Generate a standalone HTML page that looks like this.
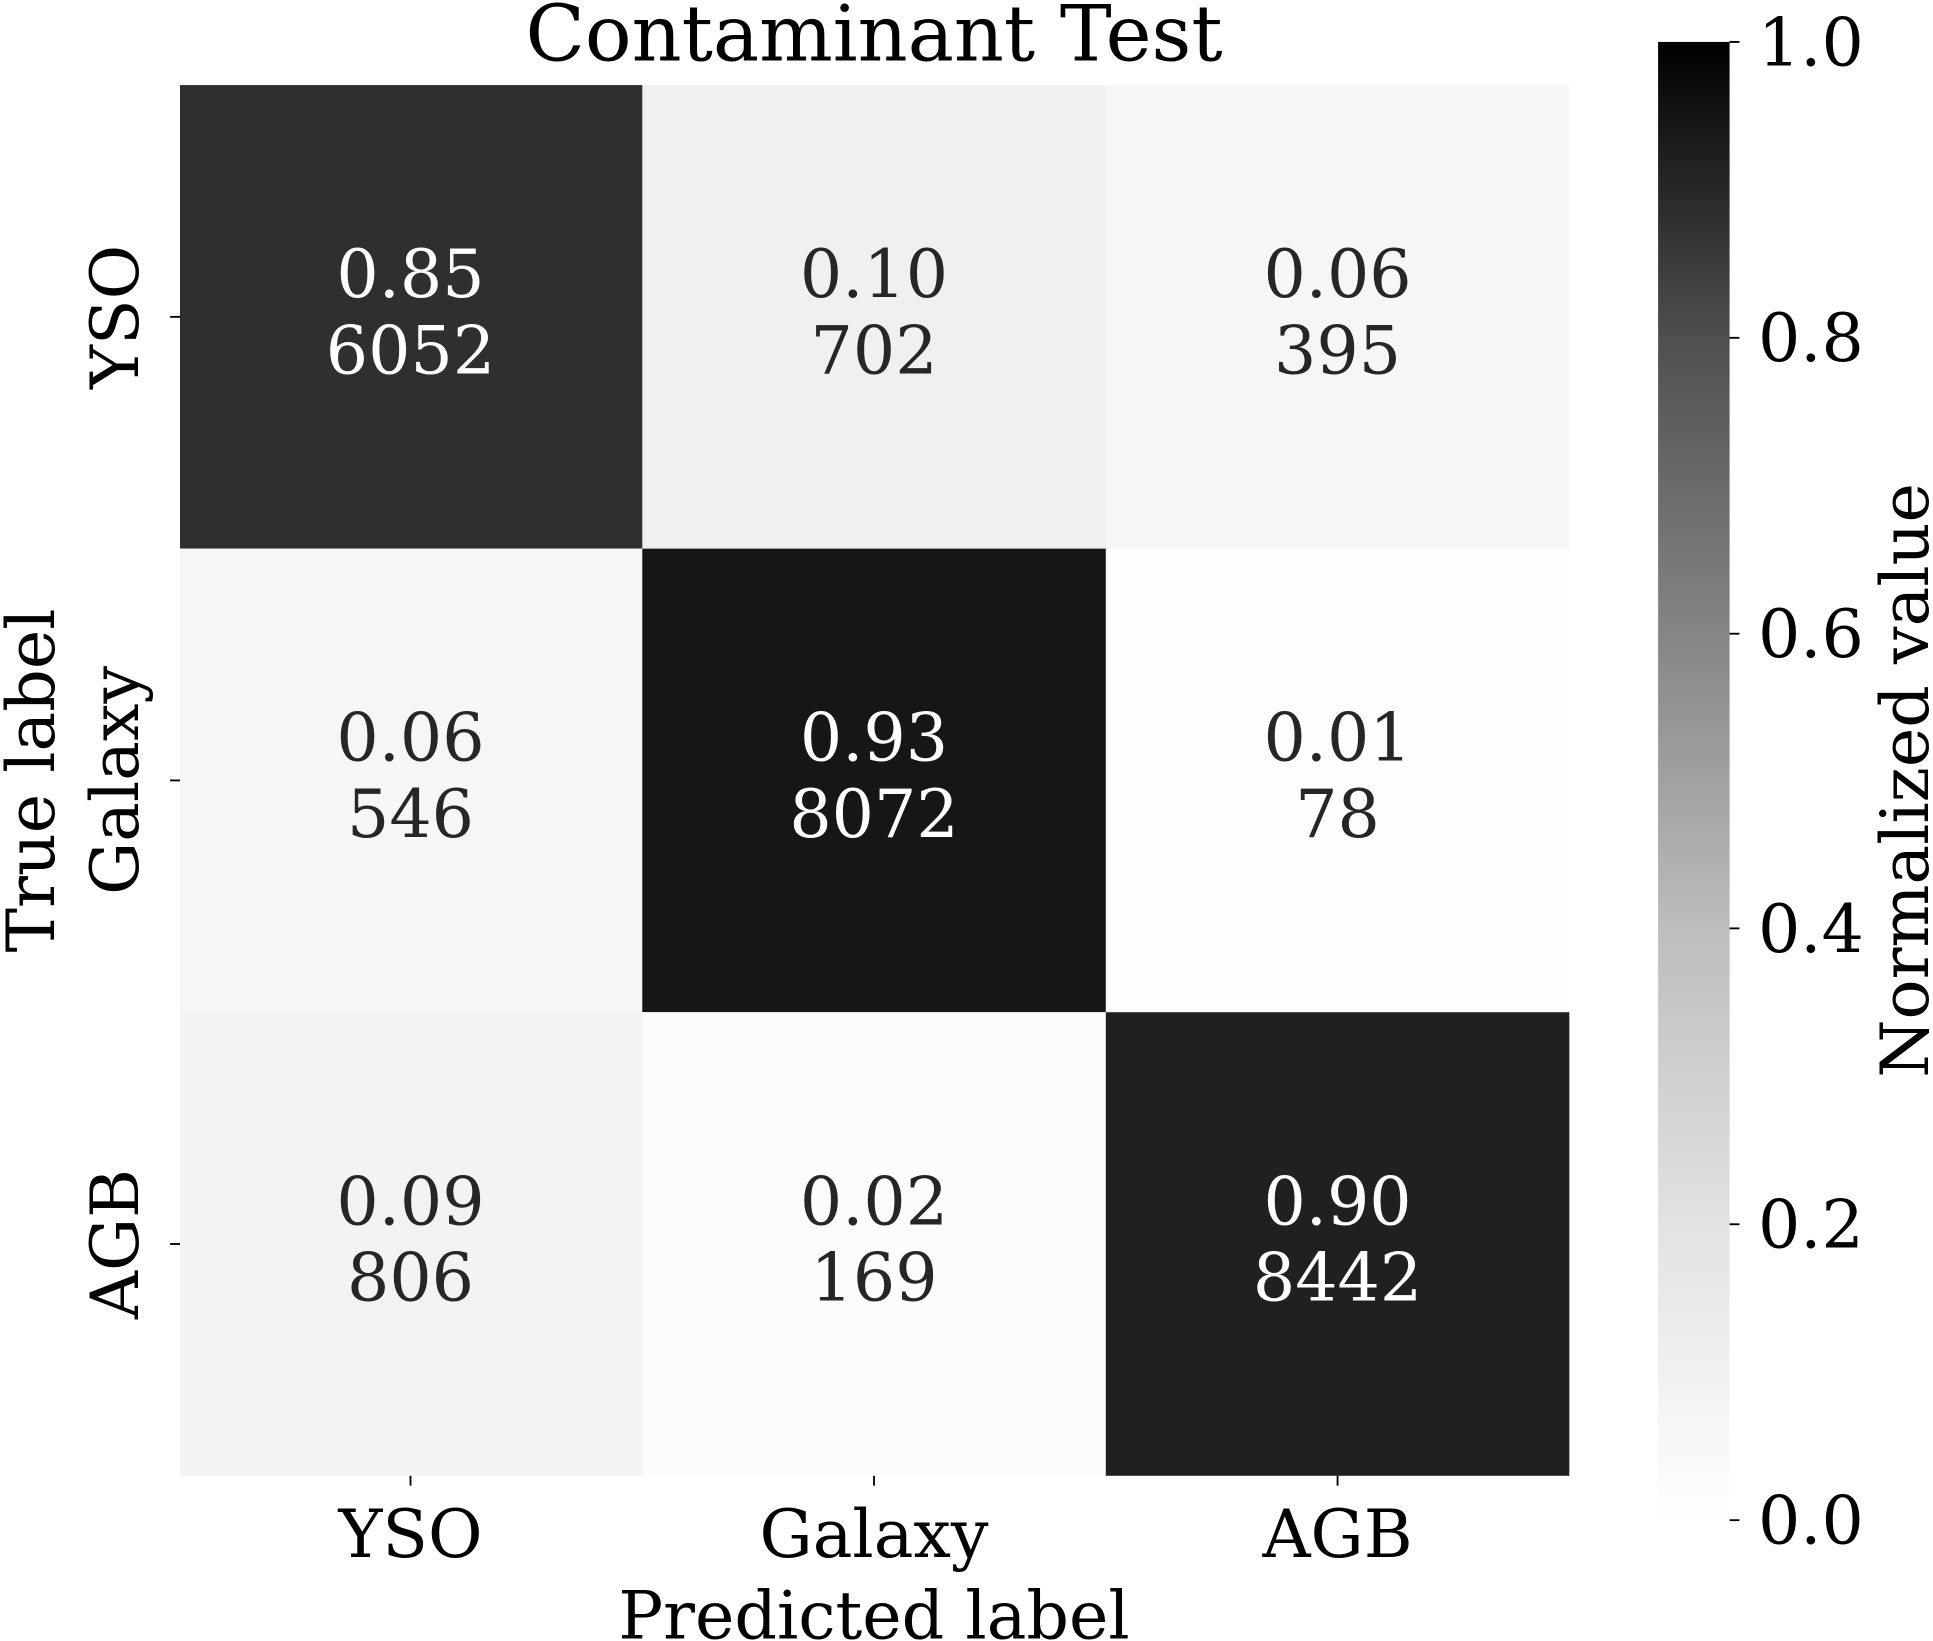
<!DOCTYPE html>
<html><head><meta charset="utf-8"><style>html,body{margin:0;padding:0;background:#fff}svg{display:block}</style></head><body>
<svg width="1933" height="1641" viewBox="0 0 1568 1331" preserveAspectRatio="none" xmlns="http://www.w3.org/2000/svg" font-family="'DejaVu Serif','Liberation Serif',serif">
<defs><linearGradient id="g" x1="0" y1="1" x2="0" y2="0">
<stop offset="0" stop-color="#ffffff"/><stop offset="0.2" stop-color="#e2e2e2"/><stop offset="0.4" stop-color="#bdbdbd"/><stop offset="0.6" stop-color="#858585"/><stop offset="0.8" stop-color="#4f4f4f"/><stop offset="1" stop-color="#000000"/></linearGradient></defs>
<text x="709" y="49" font-size="63" text-anchor="middle">Contaminant Test</text>
<rect x="146" y="69" width="376" height="376" fill="#2f2f2f"/>
<rect x="521" y="69" width="377" height="376" fill="#f0f0f0"/>
<rect x="897" y="69" width="376" height="376" fill="#f6f6f6"/>
<rect x="146" y="445" width="376" height="376" fill="#f6f6f6"/>
<rect x="521" y="445" width="377" height="376" fill="#161616"/>
<rect x="897" y="445" width="376" height="376" fill="#fdfdfd"/>
<rect x="146" y="821" width="376" height="376" fill="#f3f3f3"/>
<rect x="521" y="821" width="377" height="376" fill="#fcfcfc"/>
<rect x="897" y="821" width="376" height="376" fill="#202020"/>
<g font-size="54" text-anchor="middle">
<text x="333" y="241" fill="#fff">0.85</text><text x="333" y="303" fill="#fff">6052</text>
<text x="709" y="241" fill="#262626">0.10</text><text x="709" y="303" fill="#262626">702</text>
<text x="1085" y="241" fill="#262626">0.06</text><text x="1085" y="303" fill="#262626">395</text>
<text x="333" y="617" fill="#262626">0.06</text><text x="333" y="679" fill="#262626">546</text>
<text x="709" y="617" fill="#fff">0.93</text><text x="709" y="679" fill="#fff">8072</text>
<text x="1085" y="617" fill="#262626">0.01</text><text x="1085" y="679" fill="#262626">78</text>
<text x="333" y="993" fill="#262626">0.09</text><text x="333" y="1055" fill="#262626">806</text>
<text x="709" y="993" fill="#262626">0.02</text><text x="709" y="1055" fill="#262626">169</text>
<text x="1085" y="993" fill="#fff">0.90</text><text x="1085" y="1055" fill="#fff">8442</text>
</g>
<g stroke="#000" stroke-width="1.5">
<line x1="333" y1="1197" x2="333" y2="1205"/><line x1="709" y1="1197" x2="709" y2="1205"/><line x1="1085" y1="1197" x2="1085" y2="1205"/>
<line x1="138" y1="257" x2="146" y2="257"/><line x1="138" y1="633" x2="146" y2="633"/><line x1="138" y1="1009" x2="146" y2="1009"/>
</g>
<g font-size="54" text-anchor="middle">
<text x="333" y="1263">YSO</text><text x="709" y="1263">Galaxy</text><text x="1085" y="1263">AGB</text>
<text x="709" y="1329">Predicted label</text>
<text transform="translate(112,257) rotate(-90)">YSO</text>
<text transform="translate(112,633) rotate(-90)">Galaxy</text>
<text transform="translate(112,1009) rotate(-90)">AGB</text>
<text transform="translate(44,633) rotate(-90)">True label</text>
<text transform="translate(1564,633) rotate(-90)">Normalized value</text>
</g>
<rect x="1345" y="34" width="58" height="1199" fill="url(#g)"/>
<g stroke="#000" stroke-width="1.5">
<line x1="1403" y1="34" x2="1411" y2="34"/><line x1="1403" y1="274" x2="1411" y2="274"/><line x1="1403" y1="514" x2="1411" y2="514"/><line x1="1403" y1="753" x2="1411" y2="753"/><line x1="1403" y1="993" x2="1411" y2="993"/><line x1="1403" y1="1233" x2="1411" y2="1233"/>
</g>
<g font-size="54">
<text x="1426" y="53">1.0</text><text x="1426" y="293">0.8</text><text x="1426" y="533">0.6</text><text x="1426" y="772">0.4</text><text x="1426" y="1012">0.2</text><text x="1426" y="1252">0.0</text>
</g>
</svg>
</body></html>
